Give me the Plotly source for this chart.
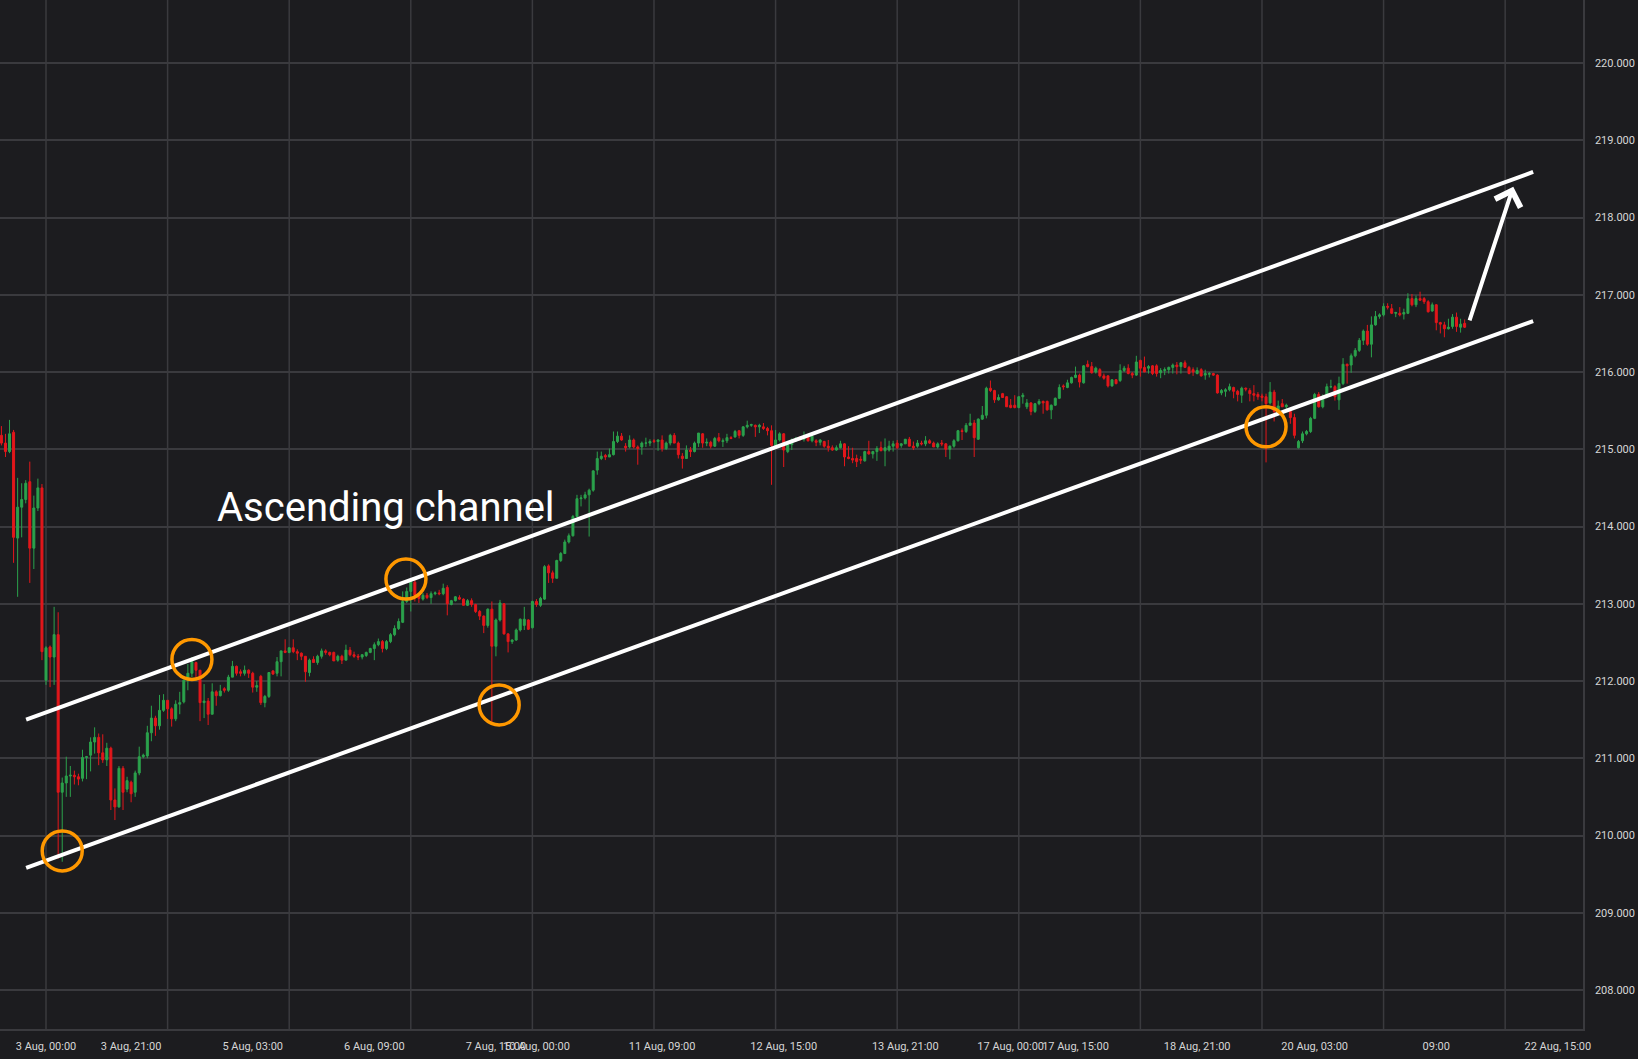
import plotly.graph_objects as go

# hourly candles, one value per bar
opens = [
    215.18, 215.08, 214.97, 215.22, 213.85, 214.25, 214.35, 214.58, 213.72, 214.24,
    214.50, 212.01, 212.44, 212.31, 212.60, 210.56, 210.68, 210.77, 210.78, 210.76,
    210.74, 211.01, 211.04, 211.21, 211.27, 211.07, 210.98, 211.13, 210.46, 210.37,
    210.87, 210.60, 210.69, 210.56, 210.81, 211.02, 211.03, 211.33, 211.52, 211.42,
    211.62, 211.75, 211.64, 211.51, 211.70, 211.73, 212.01, 212.10, 212.24, 212.14,
    211.72, 211.74, 211.57, 211.86, 211.81, 211.90, 211.88, 212.05, 212.19, 212.12,
    212.10, 212.14, 212.10, 211.92, 212.06, 211.72, 211.80, 212.13, 212.10, 212.25,
    212.39, 212.37, 212.43, 212.38, 212.36, 212.32, 212.11, 212.28, 212.24, 212.32,
    212.39, 212.37, 212.37, 212.27, 212.32, 212.27, 212.40, 212.34, 212.32, 212.31,
    212.33, 212.37, 212.42, 212.47, 212.51, 212.42, 212.51, 212.60, 212.68, 212.76,
    213.03, 213.16, 213.28, 213.11, 213.06, 213.11, 213.08, 213.13, 213.14, 213.13,
    213.21, 212.99, 213.04, 213.08, 213.06, 212.98, 213.04, 212.99, 212.90, 212.84,
    212.72, 212.93, 212.45, 212.79, 213.00, 212.61, 212.51, 212.53, 212.66, 212.72,
    212.79, 212.69, 213.03, 212.98, 213.06, 213.49, 213.40, 213.33, 213.56, 213.65,
    213.80, 213.88, 214.13, 214.36, 214.37, 214.41, 214.47, 214.73, 214.88, 214.92,
    214.90, 214.93, 215.10, 215.17, 215.04, 215.03, 215.12, 215.03, 215.03, 215.08,
    215.08, 215.11, 215.10, 215.12, 215.01, 215.08, 215.18, 215.08, 214.91, 214.88,
    214.99, 214.97, 215.08, 215.20, 215.08, 215.09, 215.04, 215.15, 215.10, 215.11,
    215.15, 215.16, 215.24, 215.18, 215.29, 215.31, 215.31, 215.29, 215.29, 215.27,
    215.24, 215.05, 215.12, 215.20, 214.97, 215.06, 215.11, 215.14, 215.13, 215.17,
    215.11, 215.11, 215.09, 215.10, 215.04, 215.02, 214.99, 215.02, 215.07, 214.90,
    214.88, 214.88, 214.87, 214.85, 214.97, 214.94, 214.97, 215.02, 214.98, 214.99,
    215.04, 215.08, 215.05, 215.07, 215.13, 215.04, 215.04, 215.08, 215.07, 215.11,
    215.08, 215.03, 215.08, 215.07, 215.00, 215.04, 215.11, 215.24, 215.23, 215.31,
    215.34, 215.13, 215.39, 215.44, 215.79, 215.76, 215.64, 215.72, 215.68, 215.57,
    215.57, 215.54, 215.68, 215.55, 215.60, 215.49, 215.59, 215.62, 215.62, 215.51,
    215.57, 215.66, 215.82, 215.80, 215.86, 215.93, 215.96, 215.86, 216.10, 216.07,
    216.00, 216.03, 215.95, 215.95, 215.82, 215.90, 215.89, 216.02, 216.05, 215.98,
    215.96, 216.15, 216.06, 216.05, 216.08, 216.08, 215.99, 216.02, 216.03, 216.06,
    216.09, 216.07, 216.12, 216.06, 216.03, 215.98, 216.03, 215.96, 215.97, 215.98,
    215.96, 215.73, 215.75, 215.77, 215.80, 215.75, 215.70, 215.79, 215.76, 215.72,
    215.71, 215.69, 215.68, 215.60, 215.74, 215.49, 215.59, 215.55, 215.49, 215.41,
    215.02, 215.11, 215.20, 215.23, 215.40, 215.71, 215.55, 215.68, 215.81, 215.81,
    215.64, 215.85, 216.10, 216.09, 216.21, 216.28, 216.41, 216.53, 216.36, 216.61,
    216.72, 216.74, 216.85, 216.82, 216.76, 216.76, 216.75, 216.76, 216.95, 216.87,
    216.95, 216.95, 216.91, 216.79, 216.87, 216.64, 216.61, 216.56, 216.59, 216.71,
    216.58, 216.63,
]

highs = [
    215.30, 215.20, 215.38, 215.25, 214.63, 214.56, 214.60, 214.84, 214.40, 214.62,
    214.55, 212.45, 212.46, 212.96, 212.89, 210.75, 211.02, 210.90, 210.84, 210.80,
    211.11, 211.03, 211.27, 211.40, 211.32, 211.31, 211.20, 211.15, 210.61, 210.90,
    210.90, 210.76, 210.71, 210.84, 211.15, 211.06, 211.42, 211.68, 211.55, 211.82,
    211.83, 211.75, 211.66, 211.75, 211.86, 212.01, 212.22, 212.31, 212.25, 212.14,
    211.96, 211.78, 211.97, 211.88, 211.95, 211.92, 212.08, 212.26, 212.20, 212.15,
    212.20, 212.15, 212.12, 212.00, 212.08, 211.82, 212.11, 212.14, 212.31, 212.39,
    212.54, 212.44, 212.54, 212.41, 212.37, 212.32, 212.29, 212.32, 212.34, 212.42,
    212.41, 212.38, 212.38, 212.34, 212.34, 212.47, 212.44, 212.38, 212.35, 212.35,
    212.38, 212.43, 212.50, 212.55, 212.53, 212.53, 212.62, 212.72, 212.81, 213.16,
    213.21, 213.31, 213.31, 213.13, 213.14, 213.14, 213.16, 213.16, 213.18, 213.26,
    213.24, 213.05, 213.10, 213.11, 213.07, 213.06, 213.07, 213.00, 212.92, 212.85,
    212.94, 213.03, 212.81, 213.05, 213.01, 212.62, 212.54, 212.68, 212.81, 212.96,
    212.80, 213.04, 213.06, 213.09, 213.50, 213.51, 213.43, 213.57, 213.67, 213.83,
    213.91, 214.15, 214.41, 214.41, 214.45, 214.49, 214.73, 214.97, 214.97, 214.94,
    215.01, 215.23, 215.23, 215.21, 215.08, 215.18, 215.14, 215.05, 215.10, 215.15,
    215.13, 215.13, 215.13, 215.18, 215.10, 215.20, 215.21, 215.10, 214.95, 215.05,
    215.03, 215.10, 215.21, 215.21, 215.14, 215.11, 215.16, 215.21, 215.14, 215.20,
    215.17, 215.25, 215.25, 215.30, 215.37, 215.33, 215.32, 215.33, 215.34, 215.29,
    215.31, 215.25, 215.22, 215.21, 215.08, 215.14, 215.16, 215.17, 215.23, 215.18,
    215.20, 215.13, 215.13, 215.11, 215.12, 215.05, 215.05, 215.11, 215.08, 215.04,
    215.02, 214.93, 214.91, 214.98, 215.11, 214.98, 215.04, 215.10, 215.14, 215.11,
    215.11, 215.12, 215.08, 215.13, 215.16, 215.10, 215.12, 215.11, 215.17, 215.13,
    215.10, 215.09, 215.12, 215.08, 215.05, 215.13, 215.25, 215.27, 215.34, 215.46,
    215.38, 215.40, 215.56, 215.81, 215.89, 215.77, 215.71, 215.73, 215.69, 215.65,
    215.70, 215.69, 215.73, 215.65, 215.61, 215.60, 215.65, 215.63, 215.63, 215.58,
    215.67, 215.84, 215.84, 215.90, 215.94, 216.07, 215.98, 216.09, 216.15, 216.13,
    216.07, 216.05, 215.98, 215.96, 215.90, 215.91, 216.10, 216.08, 216.10, 216.00,
    216.21, 216.16, 216.20, 216.09, 216.09, 216.10, 216.05, 216.06, 216.07, 216.11,
    216.13, 216.13, 216.15, 216.08, 216.06, 216.06, 216.05, 216.03, 216.00, 215.99,
    215.97, 215.78, 215.79, 215.85, 215.81, 215.77, 215.81, 215.80, 215.79, 215.83,
    215.74, 215.72, 215.72, 215.87, 215.77, 215.63, 215.65, 215.59, 215.53, 215.46,
    215.12, 215.23, 215.25, 215.42, 215.73, 215.74, 215.71, 215.85, 215.90, 215.83,
    215.94, 216.18, 216.11, 216.24, 216.31, 216.44, 216.55, 216.61, 216.72, 216.79,
    216.76, 216.89, 216.89, 216.88, 216.78, 216.84, 216.82, 217.02, 217.01, 216.99,
    217.04, 216.97, 216.93, 216.90, 216.88, 216.65, 216.65, 216.69, 216.75, 216.77,
    216.69, 216.68,
]

lows = [
    215.05, 214.90, 214.95, 213.53, 213.09, 213.86, 214.30, 213.27, 213.45, 214.20,
    212.27, 211.95, 211.92, 211.95, 209.70, 209.66, 210.50, 210.50, 210.66, 210.65,
    210.70, 210.73, 210.83, 211.06, 210.91, 210.94, 210.90, 210.33, 210.20, 210.36,
    210.33, 210.56, 210.43, 210.50, 210.78, 211.00, 211.00, 211.22, 211.29, 211.37,
    211.60, 211.51, 211.41, 211.48, 211.57, 211.71, 211.88, 212.05, 212.02, 211.48,
    211.52, 211.43, 211.57, 211.68, 211.80, 211.85, 211.86, 212.05, 212.07, 212.06,
    212.07, 212.04, 211.85, 211.86, 211.69, 211.66, 211.78, 212.08, 212.06, 212.06,
    212.36, 212.36, 212.36, 212.27, 212.27, 211.99, 212.06, 212.24, 212.21, 212.29,
    212.34, 212.32, 212.26, 212.25, 212.22, 212.27, 212.32, 212.30, 212.27, 212.28,
    212.31, 212.36, 212.27, 212.45, 212.37, 212.40, 212.49, 212.58, 212.66, 212.75,
    213.01, 212.90, 213.03, 213.01, 213.04, 213.06, 213.00, 213.11, 213.11, 213.11,
    212.85, 212.98, 213.03, 213.05, 212.98, 212.97, 212.96, 212.88, 212.79, 212.62,
    212.69, 211.47, 212.32, 212.77, 212.60, 212.37, 212.48, 212.52, 212.64, 212.66,
    212.66, 212.68, 212.96, 212.96, 213.05, 213.27, 213.27, 213.33, 213.54, 213.65,
    213.78, 213.87, 214.13, 214.26, 214.35, 213.87, 214.45, 214.67, 214.86, 214.86,
    214.90, 214.92, 215.08, 215.11, 214.97, 215.01, 215.01, 214.80, 214.93, 215.03,
    215.04, 215.08, 214.98, 214.97, 214.99, 215.05, 215.08, 214.88, 214.75, 214.88,
    214.90, 214.96, 215.03, 215.02, 215.04, 215.01, 215.03, 215.09, 215.03, 215.08,
    215.13, 215.15, 215.14, 215.16, 215.27, 215.29, 215.16, 215.21, 215.25, 215.18,
    214.54, 215.01, 215.10, 214.77, 214.95, 214.99, 215.10, 215.11, 215.10, 215.10,
    215.09, 215.04, 215.05, 215.02, 214.97, 214.98, 214.98, 215.01, 214.78, 214.87,
    214.82, 214.77, 214.81, 214.84, 214.93, 214.88, 214.85, 214.98, 214.78, 214.97,
    214.97, 215.00, 215.02, 215.07, 215.04, 214.99, 215.02, 215.05, 215.04, 215.07,
    215.03, 215.01, 215.04, 214.90, 214.87, 215.02, 215.10, 215.12, 215.21, 215.31,
    214.90, 215.12, 215.38, 215.40, 215.74, 215.60, 215.63, 215.67, 215.55, 215.53,
    215.53, 215.53, 215.59, 215.52, 215.44, 215.47, 215.57, 215.46, 215.50, 215.39,
    215.56, 215.65, 215.77, 215.79, 215.85, 215.92, 215.80, 215.85, 216.06, 215.98,
    215.98, 215.93, 215.90, 215.80, 215.81, 215.84, 215.87, 216.00, 215.97, 215.92,
    215.95, 215.94, 216.00, 215.98, 215.96, 215.94, 215.92, 215.96, 215.98, 215.98,
    215.97, 215.98, 216.06, 215.97, 215.95, 215.97, 215.94, 215.90, 215.93, 215.95,
    215.72, 215.70, 215.68, 215.75, 215.66, 215.62, 215.60, 215.75, 215.62, 215.62,
    215.64, 215.62, 214.83, 215.58, 215.36, 215.45, 215.55, 215.51, 215.33, 215.14,
    215.01, 215.08, 215.18, 215.21, 215.39, 215.54, 215.53, 215.66, 215.79, 215.63,
    215.51, 215.83, 215.85, 215.99, 216.19, 216.26, 216.35, 216.34, 216.19, 216.60,
    216.69, 216.72, 216.81, 216.75, 216.71, 216.72, 216.68, 216.75, 216.85, 216.84,
    216.92, 216.88, 216.77, 216.78, 216.54, 216.50, 216.45, 216.55, 216.56, 216.52,
    216.51, 216.57,
]

closes = [
    215.08, 214.97, 215.20, 213.86, 214.25, 214.35, 214.56, 213.72, 214.24, 214.50,
    212.38, 212.43, 212.31, 212.60, 210.56, 210.68, 210.77, 210.78, 210.76, 210.73,
    211.01, 211.02, 211.21, 211.27, 211.07, 210.98, 211.13, 210.46, 210.37, 210.87,
    210.56, 210.71, 210.54, 210.81, 211.02, 211.04, 211.33, 211.52, 211.42, 211.62,
    211.75, 211.64, 211.51, 211.70, 211.72, 212.01, 212.10, 212.25, 212.14, 211.72,
    211.74, 211.57, 211.86, 211.81, 211.87, 211.88, 212.05, 212.19, 212.10, 212.10,
    212.14, 212.10, 211.92, 211.94, 211.72, 211.80, 212.11, 212.09, 212.25, 212.39,
    212.37, 212.43, 212.38, 212.36, 212.32, 212.12, 212.27, 212.24, 212.32, 212.39,
    212.37, 212.34, 212.26, 212.32, 212.27, 212.40, 212.34, 212.32, 212.31, 212.34,
    212.37, 212.42, 212.47, 212.51, 212.42, 212.51, 212.60, 212.68, 212.77, 213.03,
    213.16, 213.28, 213.11, 213.07, 213.11, 213.08, 213.13, 213.14, 213.13, 213.20,
    213.00, 213.04, 213.09, 213.06, 212.98, 213.04, 212.99, 212.90, 212.84, 212.72,
    212.93, 212.45, 212.79, 213.01, 212.61, 212.51, 212.53, 212.66, 212.80, 212.80,
    212.67, 213.03, 212.99, 213.07, 213.48, 213.40, 213.33, 213.56, 213.65, 213.80,
    213.88, 214.13, 214.36, 214.37, 214.41, 214.47, 214.72, 214.88, 214.91, 214.90,
    214.93, 215.10, 215.17, 215.12, 215.02, 215.12, 215.03, 215.01, 215.08, 215.08,
    215.10, 215.10, 215.12, 215.01, 215.08, 215.18, 215.08, 214.93, 214.88, 214.99,
    214.97, 215.08, 215.21, 215.08, 215.09, 215.04, 215.14, 215.11, 215.11, 215.15,
    215.14, 215.23, 215.18, 215.29, 215.31, 215.32, 215.29, 215.31, 215.27, 215.24,
    215.05, 215.12, 215.20, 214.99, 215.06, 215.12, 215.14, 215.13, 215.17, 215.11,
    215.17, 215.09, 215.12, 215.04, 215.02, 214.99, 215.02, 215.07, 214.90, 214.88,
    214.86, 214.84, 214.86, 214.97, 214.94, 214.97, 215.01, 214.98, 215.02, 215.04,
    215.07, 215.02, 215.07, 215.13, 215.04, 215.02, 215.08, 215.07, 215.11, 215.08,
    215.03, 215.07, 215.07, 215.00, 215.04, 215.11, 215.24, 215.23, 215.31, 215.34,
    215.15, 215.39, 215.44, 215.79, 215.76, 215.64, 215.67, 215.67, 215.55, 215.54,
    215.54, 215.68, 215.70, 215.60, 215.49, 215.59, 215.62, 215.60, 215.51, 215.57,
    215.66, 215.80, 215.81, 215.86, 215.93, 215.96, 215.87, 216.08, 216.07, 215.99,
    216.05, 215.95, 215.92, 215.82, 215.90, 215.85, 216.02, 216.05, 215.98, 215.96,
    216.13, 216.05, 216.00, 216.07, 215.98, 215.98, 216.02, 216.03, 216.06, 216.09,
    216.07, 216.12, 216.06, 215.98, 216.00, 216.02, 215.95, 215.98, 215.98, 215.96,
    215.73, 215.76, 215.77, 215.81, 215.75, 215.71, 215.79, 215.78, 215.72, 215.70,
    215.68, 215.67, 215.59, 215.74, 215.49, 215.56, 215.55, 215.57, 215.41, 215.18,
    215.10, 215.20, 215.23, 215.40, 215.71, 215.55, 215.68, 215.81, 215.81, 215.68,
    215.85, 216.10, 216.08, 216.21, 216.28, 216.41, 216.53, 216.36, 216.61, 216.72,
    216.74, 216.85, 216.84, 216.76, 216.77, 216.74, 216.77, 216.95, 216.87, 216.95,
    216.93, 216.91, 216.78, 216.87, 216.64, 216.62, 216.56, 216.58, 216.71, 216.59,
    216.62, 216.58,
]

bars = list(range(len(closes)))

# time axis: bar positions of the labels, grid every 30 bars
label_pos = [11, 32, 62, 92, 122, 132, 163, 193, 223, 249, 265, 295, 324, 354, 384]
label_text = ["3 Aug, 00:00", "3 Aug, 21:00", "5 Aug, 03:00", "6 Aug, 09:00",
              "7 Aug, 15:00", "10 Aug, 00:00", "11 Aug, 09:00", "12 Aug, 15:00",
              "13 Aug, 21:00", "17 Aug, 00:00", "17 Aug, 15:00", "18 Aug, 21:00",
              "20 Aug, 03:00", "09:00", "22 Aug, 15:00"]
grid_pos = list(range(11, 390, 30))
price_ticks = list(range(208, 221))

# channel lines (bar, price at both ends)
channel_x = [6.1, 377.9]
upper_y = [211.50, 218.59]
lower_y = [209.58, 216.66]

# touch points marked with circles
touch_x = [15, 47, 99.8, 122.8, 312]
touch_y = [209.80, 212.28, 213.32, 211.69, 215.29]

BG = "#1c1c1f"
GRID = "#3a3a3e"
GREEN = "#2ba24c"
RED = "#e3171b"
ORANGE = "#ff9800"

fig = go.Figure()

fig.add_trace(go.Candlestick(
    x=bars, open=opens, high=highs, low=lows, close=closes,
    increasing=dict(line=dict(color=GREEN, width=1), fillcolor=GREEN),
    decreasing=dict(line=dict(color=RED, width=1), fillcolor=RED),
    whiskerwidth=0, showlegend=False, hoverinfo="skip",
))

for ys in (upper_y, lower_y):
    fig.add_trace(go.Scatter(x=channel_x, y=ys, mode="lines",
                             line=dict(color="white", width=4),
                             showlegend=False, hoverinfo="skip"))

for gx in grid_pos:
    fig.add_vline(x=gx, line=dict(color=GRID, width=1.5), layer="below")

for tx, ty in zip(touch_x, touch_y):
    fig.add_shape(type="circle", xref="x", yref="y",
                  xsizemode="pixel", ysizemode="pixel",
                  xanchor=tx, yanchor=ty, x0=-20, x1=20, y0=-20, y1=20,
                  line=dict(color=ORANGE, width=3.5), layer="above")

fig.add_annotation(x=52.6, y=214.25, text="Ascending channel", showarrow=False,
                   xanchor="left", yanchor="middle",
                   font=dict(family="Roboto", size=40, color="white"))

# breakout arrow
fig.add_annotation(x=373.0, y=218.40, ax=362.1, ay=216.65,
                   xref="x", yref="y", axref="x", ayref="y", text="",
                   showarrow=True, arrowhead=4, arrowsize=1.3, arrowwidth=4,
                   arrowcolor="white", standoff=0)

fig.update_layout(
    width=1638, height=1059,
    margin=dict(l=0, r=55, t=0, b=30),
    paper_bgcolor=BG, plot_bgcolor=BG,
    showlegend=False,
    font=dict(family="Liberation Sans Narrow, Arial Narrow, Roboto, sans-serif",
              size=11, color="#d6d6d6"),
    xaxis=dict(range=[-0.35, 390.2], tickmode="array", tickvals=label_pos,
               ticktext=label_text, tickangle=0, showgrid=False, zeroline=False,
               showline=True, linecolor=GRID, linewidth=1.5, ticks="",
               ticklabelstandoff=6, rangeslider=dict(visible=False)),
    yaxis=dict(range=[207.495, 220.816], side="right", tickmode="array",
               tickvals=price_ticks, ticktext=["%.3f" % v for v in price_ticks],
               showgrid=True, gridcolor=GRID, gridwidth=1.5, zeroline=False,
               showline=True, linecolor=GRID, linewidth=1.5, ticks="",
               ticklabelstandoff=8),
)

# page body margin would push the figure off the window edges
fig.write_html("out.html", config={"displayModeBar": False},
               post_script="document.body.style.margin='0';"
                           "document.body.style.background='#1c1c1f';")
